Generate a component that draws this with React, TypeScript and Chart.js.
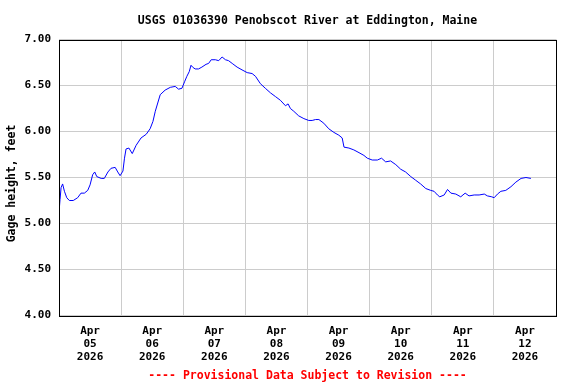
import { useEffect, useRef } from 'react';
import { Chart, registerables } from 'chart.js';

Chart.register(...registerables);

const TITLE = 'USGS 01036390 Penobscot River at Eddington, Maine';
const Y_TITLE = 'Gage height, feet';
const FOOTER = '---- Provisional Data Subject to Revision ----';
const MONTH = 'Apr';
const YEAR = '2026';
const DAY_LABELS = ['05', '06', '07', '08', '09', '10', '11', '12'];
const Y_TICKS = [4.0, 4.5, 5.0, 5.5, 6.0, 6.5, 7.0];

// hours since Apr 05 00:00
const HOURS = [
  0, 0.4, 0.8, 1.4, 2.1, 3.0, 4.0, 5.5, 7.2, 8.5, 9.8, 11.1, 12.0, 13.0, 13.8, 14.6,
  16.3, 17.5, 18.9, 20.1, 21.7, 22.7, 23.6, 24.7, 25.3, 25.9, 27.0, 28.3, 29.8, 31.7,
  33.7, 35.2, 36.3, 37.2, 39.1, 41.0, 43.0, 44.9, 46.2, 47.5, 48.5, 49.4, 50.3, 51.0,
  51.6, 52.6, 53.9, 55.2, 56.8, 57.8, 58.8, 60.4, 61.7, 63.0, 64.3, 65.5, 66.9, 68.8,
  70.7, 72.7, 74.6, 75.9, 77.8, 79.7, 81.7, 83.6, 85.5, 87.5, 88.5, 89.4, 90.7, 92.6,
  94.6, 96.5, 97.8, 99.1, 100.4, 102.3, 104.2, 106.2, 108.1, 109.4, 110.1, 112.0, 113.9,
  115.9, 117.8, 119.1, 121.0, 123.0, 124.6, 126.2, 128.1, 130.1, 132.0, 133.9, 135.9,
  137.8, 139.7, 141.7, 143.6, 144.9, 146.2, 147.1, 148.8, 150.1, 151.4, 153.3, 155.2,
  156.9, 158.4, 160.4, 162.3, 164.3, 165.5, 167.2, 168.1, 169.4, 170.7, 172.6, 174.6,
  176.5, 178.5, 180.4, 182.3,
];

const GAGE = [
  5.12, 5.26, 5.39, 5.43, 5.35, 5.28, 5.25, 5.25, 5.28, 5.33, 5.33, 5.36, 5.42, 5.53, 5.56, 5.51,
  5.49, 5.49, 5.56, 5.60, 5.61, 5.56, 5.52, 5.57, 5.71, 5.81, 5.82, 5.76, 5.85, 5.93,
  5.97, 6.03, 6.11, 6.22, 6.40, 6.45, 6.48, 6.49, 6.46, 6.47, 6.54, 6.60, 6.65, 6.72,
  6.70, 6.68, 6.68, 6.70, 6.73, 6.74, 6.78, 6.78, 6.77, 6.81, 6.78, 6.77, 6.74, 6.70,
  6.67, 6.64, 6.63, 6.60, 6.52, 6.47, 6.42, 6.38, 6.34, 6.28, 6.30, 6.25, 6.22, 6.17,
  6.14, 6.12, 6.12, 6.13, 6.13, 6.09, 6.03, 5.99, 5.96, 5.93, 5.83, 5.82, 5.80,
  5.77, 5.74, 5.71, 5.69, 5.69, 5.71, 5.67, 5.68, 5.64, 5.59, 5.56, 5.51,
  5.47, 5.43, 5.38, 5.36, 5.35, 5.31, 5.29, 5.31, 5.37, 5.33, 5.32, 5.29,
  5.33, 5.30, 5.31, 5.31, 5.32, 5.30, 5.29, 5.28, 5.32, 5.35, 5.36, 5.40,
  5.45, 5.49, 5.50, 5.49,
];

const FONT_FAMILY = '"DejaVu Sans Mono", "Liberation Mono", monospace';

const framePlugin = {
  id: 'frameAndYTitle',
  afterDraw(chart: any) {
    const { ctx, chartArea } = chart;
    ctx.save();
    ctx.strokeStyle = '#000000';
    ctx.lineWidth = 1;
    const l = Math.round(chartArea.left) + 0.5;
    const t = Math.round(chartArea.top) + 0.5;
    const r = Math.round(chartArea.right) + 0.5;
    const b = Math.round(chartArea.bottom) + 0.5;
    ctx.strokeRect(l, t, r - l, b - t);
    ctx.restore();

    ctx.save();
    ctx.translate(12, (chartArea.top + chartArea.bottom) / 2 + 6);
    ctx.rotate(-Math.PI / 2);
    ctx.textAlign = 'center';
    ctx.textBaseline = 'middle';
    ctx.fillStyle = '#000000';
    ctx.font = 'bold 11.5px ' + FONT_FAMILY;
    ctx.fillText(Y_TITLE, 0, 0);
    ctx.restore();
  },
};

export default function App() {
  const canvasRef = useRef<HTMLCanvasElement | null>(null);

  useEffect(() => {
    document.body.style.margin = '0';
    const canvas = canvasRef.current;
    if (!canvas) return;
    const data = HOURS.map((h, i) => ({ x: h, y: GAGE[i] }));
    const chart = new Chart(canvas, {
      type: 'line',
      data: {
        datasets: [
          {
            data,
            borderColor: '#0000ff',
            borderWidth: 1,
            pointRadius: 0,
            tension: 0,
            fill: false,
          },
        ],
      },
      options: {
        animation: false,
        responsive: false,
        maintainAspectRatio: false,
        layout: { padding: { left: 0, right: 20, top: 0, bottom: 0 } },
        plugins: {
          legend: { display: false },
          tooltip: { enabled: false },
          title: {
            display: true,
            fullSize: false,
            text: TITLE,
            color: '#000000',
            font: { family: FONT_FAMILY, size: 11.5, weight: 'bold', lineHeight: 1.2 },
            padding: { top: 14, bottom: 11.7 },
          },
          subtitle: {
            display: true,
            fullSize: false,
            position: 'bottom',
            text: FOOTER,
            color: '#ff0000',
            font: { family: FONT_FAMILY, size: 11.5, weight: 'bold', lineHeight: 1.2 },
            padding: { top: 6.7, bottom: 1 },
          },
        },
        scales: {
          x: {
            type: 'linear',
            min: 0,
            max: 192,
            afterBuildTicks: (axis: any) => {
              const ticks = [];
              for (let v = 0; v <= 192; v += 12) ticks.push({ value: v });
              axis.ticks = ticks;
            },
            afterFit: (axis: any) => {
              axis.height = 47;
            },
            grid: {
              color: (ctx: any) =>
                ctx.tick && ctx.tick.value % 24 === 0 ? '#cccccc' : 'rgba(0,0,0,0)',
              drawTicks: false,
            },
            border: { display: false },
            ticks: {
              autoSkip: false,
              maxRotation: 0,
              minRotation: 0,
              padding: 9,
              color: '#000000',
              font: { family: FONT_FAMILY, size: 11, weight: 'bold', lineHeight: '13px' },
              callback: (v: any) => {
                const n = Number(v);
                if (n % 24 === 12) {
                  return [MONTH, DAY_LABELS[(n - 12) / 24], YEAR];
                }
                return '';
              },
            },
          },
          y: {
            type: 'linear',
            min: 4,
            max: 7,
            afterBuildTicks: (axis: any) => {
              axis.ticks = Y_TICKS.map((v) => ({ value: v }));
            },
            afterFit: (axis: any) => {
              axis.width = 59;
            },
            grid: { color: '#cccccc', drawTicks: false },
            border: { display: false },
            ticks: {
              padding: 8,
              color: '#000000',
              font: { family: FONT_FAMILY, size: 11, weight: 'bold' },
              callback: (v: any) => Number(v).toFixed(2),
            },
          },
        },
      },
      plugins: [framePlugin],
    } as any);
    return () => chart.destroy();
  }, []);

  return (
    <div style={{ width: 576, height: 384, background: '#ffffff' }}>
      <canvas ref={canvasRef} width={576} height={384} style={{ width: 576, height: 384, display: 'block' }} />
    </div>
  );
}
